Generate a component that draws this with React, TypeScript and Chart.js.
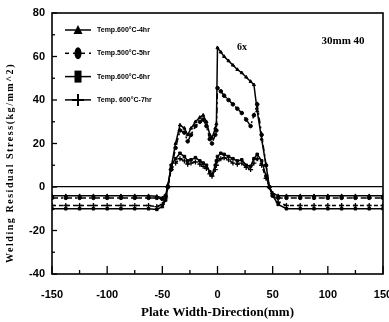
import React, { useEffect, useRef } from "react";
import { Chart, registerables } from "chart.js";

Chart.register(...registerables);

// Plate width-direction positions (mm)
const xPositions = [
  -150, -137.5, -125, -112.5, -100, -87.5, -75, -62.5, -55, -50, -47, -45, -42, -38, -34,
  -30, -27, -24, -20, -16, -13, -10, -7, -5, -2, -1, 0, 3, 6, 10, 14, 18, 22, 26, 30, 33,
  36, 40, 44, 47, 50, 55, 62.5, 75, 87.5, 100, 112.5, 125, 137.5, 150,
];

const seriesLabels = ["Temp.600°C-4hr", "Temp.500°C-5hr", "Temp.600°C-6hr", "Temp. 600°C-7hr"];

const stress4hr = [
  -4, -4, -4, -4, -4, -4, -4, -4, -4.3, -5, -4, 1, 9, 20, 28.5,
  27, 24, 27, 30, 32, 33, 30, 24, 22.5, 27, 29, 64, 62, 60, 58, 56, 54, 52.5, 50.5, 48.5, 47,
  35, 22, 10, 0, -3, -4, -4, -4, -4, -4, -4, -4, -4, -4,
];
const stress5hr = [
  -5, -5, -5, -5, -5, -5, -5, -5, -5, -5.5, -4, 0, 8, 18, 26,
  25, 21, 24, 28, 30, 31, 28, 22, 20, 24, 26, 45.5, 44, 42, 40, 38, 36, 34, 31, 28, 33,
  38, 24, 10, 0, -4, -5, -5, -5, -5, -5, -5, -5, -5, -5,
];
const stress6hr = [
  -10, -10, -10, -10, -10, -10, -10, -10, -10.3, -9, -6, 0, 10, 13, 15.5,
  14, 12, 12.5, 13.5, 12, 11, 10, 7, 5.5, 10, 12, 14, 15.5, 15, 14, 13, 12, 12.5, 10, 9.5, 13,
  15, 12, 5, 0, -4, -8, -10, -10, -10, -10, -10, -10, -10, -10,
];
const stress7hr = [
  -8.5, -8.5, -8.5, -8.5, -8.5, -8.5, -8.5, -8.5, -9, -8, -5, 0, 8, 11, 13,
  12, 10.5, 11, 11.5, 10.5, 9.5, 8.5, 6, 5, 8, 10, 12, 13, 13.5, 12.5, 11, 10.5, 11, 9, 8, 11,
  13, 10, 4, 0, -3, -7, -8.5, -8.5, -8.5, -8.5, -8.5, -8.5, -8.5, -8.5,
];

const xTickValues = [-150, -100, -50, 0, 50, 100, 150];
const yTickValues = [-40, -20, 0, 20, 40, 60, 80];

const TICK_FONT = "'Liberation Sans Narrow', 'Arial Narrow', sans-serif";
const SERIF = "'Liberation Serif', 'Times New Roman', serif";

const pointStyles = ["triangle", "circle", "rect", "cross"] as const;
const dashes: number[][] = [[], [6, 3, 2, 3], [], [4, 3]];

const decorPlugin = {
  id: "decor",
  afterDraw(chart: any) {
    const { ctx, chartArea } = chart;
    const { left, right, top, bottom } = chartArea;
    const xs = chart.scales.x;
    const ys = chart.scales.y;
    ctx.save();
    // frame
    ctx.strokeStyle = "#000";
    ctx.lineWidth = 1.6;
    ctx.setLineDash([]);
    ctx.strokeRect(left, top, right - left, bottom - top);
    // inward ticks
    ctx.lineWidth = 1.3;
    for (let v = -40; v <= 80; v += 10) {
      const y = ys.getPixelForValue(v);
      const len = v % 20 === 0 ? 5 : 3;
      ctx.beginPath();
      ctx.moveTo(left, y);
      ctx.lineTo(left + len, y);
      ctx.stroke();
    }
    for (let v = -150; v <= 150; v += 25) {
      const x = xs.getPixelForValue(v);
      const len = v % 50 === 0 ? 8 : 4;
      ctx.beginPath();
      ctx.moveTo(x, bottom);
      ctx.lineTo(x, bottom - len);
      ctx.stroke();
    }
    // legend
    chart.data.datasets.forEach((ds: any, i: number) => {
      const y = 30 + i * 23.3;
      const mx = 78;
      ctx.strokeStyle = "#000";
      ctx.fillStyle = "#000";
      ctx.lineWidth = 1.5;
      ctx.setLineDash(i === 1 ? [4, 4] : []);
      ctx.beginPath();
      ctx.moveTo(65, y);
      ctx.lineTo(91, y);
      ctx.stroke();
      ctx.setLineDash([]);
      ctx.beginPath();
      if (i === 0) {
        ctx.moveTo(mx, y - 5);
        ctx.lineTo(mx - 4.5, y + 4);
        ctx.lineTo(mx + 4.5, y + 4);
        ctx.closePath();
        ctx.fill();
      } else if (i === 1) {
        ctx.ellipse(mx, y, 3.5, 6, 0, 0, Math.PI * 2);
        ctx.fill();
      } else if (i === 2) {
        ctx.fillRect(mx - 3.5, y - 6, 7, 12);
      } else {
        ctx.lineWidth = 2;
        ctx.moveTo(mx - 6, y);
        ctx.lineTo(mx + 6, y);
        ctx.moveTo(mx, y - 6);
        ctx.lineTo(mx, y + 6);
        ctx.stroke();
      }
      ctx.font = `bold 7px ${TICK_FONT}`;
      ctx.textAlign = "left";
      ctx.textBaseline = "middle";
      ctx.fillText(ds.label, 97, y);
    });
    // annotations
    ctx.fillStyle = "#000";
    ctx.font = `bold 10px ${SERIF}`;
    ctx.textAlign = "center";
    ctx.textBaseline = "middle";
    ctx.fillText("6x", 242, 47);
    ctx.font = `bold 11px ${SERIF}`;
    ctx.fillText("30mm 40", 343, 41);
    // y-axis title with spaced letters
    const title = "Welding Residual Stress(kg/mm^2)";
    ctx.font = `bold 10px ${SERIF}`;
    const base = ctx.measureText(title).width;
    const spacing = Math.max(0, (200 - base) / title.length);
    (ctx as any).letterSpacing = `${spacing}px`;
    ctx.translate(10, 163);
    ctx.rotate(-Math.PI / 2);
    ctx.textAlign = "center";
    ctx.fillText(title, 0, 0);
    ctx.restore();
  },
};

export default function App() {
  const ref = useRef<HTMLCanvasElement | null>(null);
  useEffect(() => {
    document.body.style.margin = "0";
    const series = [stress4hr, stress5hr, stress6hr, stress7hr];
    const chart = new Chart(ref.current as HTMLCanvasElement, {
      type: "line",
      data: {
        datasets: series.map((s, i) => ({
          label: seriesLabels[i],
          data: xPositions.map((x, j) => ({ x, y: s[j] })),
          borderColor: "#000",
          backgroundColor: "#000",
          borderWidth: 1.5,
          borderDash: dashes[i],
          pointStyle: pointStyles[i],
          pointRadius: i === 3 ? 2.5 : 1.8,
          pointBorderWidth: i === 3 ? 1.3 : 1,
          pointBackgroundColor: "#000",
          pointBorderColor: "#000",
          tension: 0,
          fill: false,
        })),
      },
      options: {
        responsive: false,
        animation: false,
        layout: { padding: { top: 13, right: 6, left: 0, bottom: 0 } },
        plugins: { legend: { display: false }, tooltip: { enabled: false } },
        scales: {
          x: {
            type: "linear",
            min: -150,
            max: 150,
            afterBuildTicks: (s: any) => {
              s.ticks = xTickValues.map((v) => ({ value: v }));
            },
            afterFit: (s: any) => {
              s.height = 48;
              s.paddingLeft = 0;
              s.paddingRight = 0;
            },
            grid: { display: false },
            border: { display: false },
            ticks: {
              padding: 6,
              color: "#000",
              maxRotation: 0,
              font: { family: TICK_FONT, size: 11, weight: "bold" },
            },
            title: {
              display: true,
              text: "Plate Width-Direction(mm)",
              color: "#000",
              font: { family: SERIF, size: 13, weight: "bold" },
              padding: { top: 0, bottom: 2 },
            },
          },
          y: {
            type: "linear",
            min: -40,
            max: 80,
            afterBuildTicks: (s: any) => {
              s.ticks = yTickValues.map((v) => ({ value: v }));
            },
            afterFit: (s: any) => {
              s.width = 52;
              s.paddingTop = 0;
              s.paddingBottom = 0;
            },
            grid: {
              drawTicks: false,
              color: (c: any) => (c.tick && c.tick.value === 0 ? "#000" : "rgba(0,0,0,0)"),
              lineWidth: 1.3,
            },
            border: { display: false },
            ticks: {
              padding: 7,
              color: "#000",
              font: { family: TICK_FONT, size: 11, weight: "bold" },
            },
          },
        },
      },
      plugins: [decorPlugin],
    } as any);
    return () => chart.destroy();
  }, []);
  return <canvas ref={ref} width={389} height={322} style={{ display: "block" }} />;
}
